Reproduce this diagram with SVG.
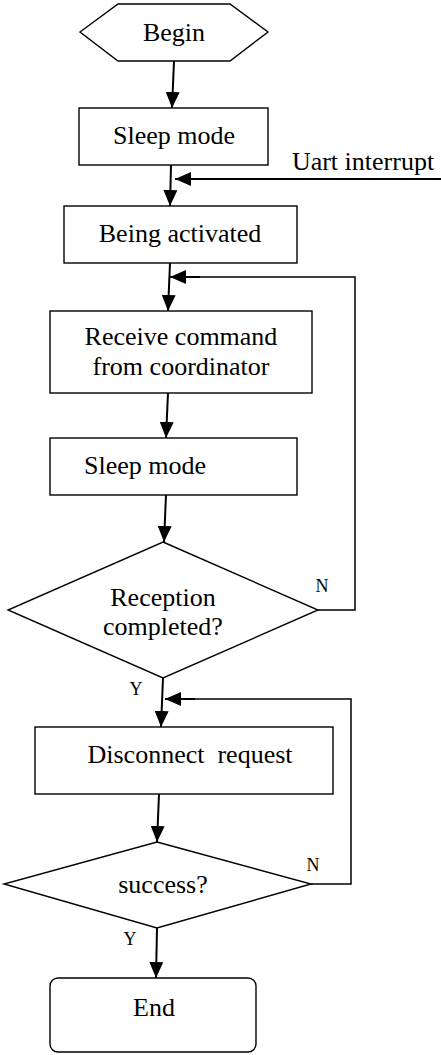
<svg xmlns="http://www.w3.org/2000/svg" width="441" height="1055" viewBox="0 0 441 1055">
  <style>
    .shape { fill: #fff; stroke: #000; stroke-width: 1.4; }
    .flow { fill: none; stroke: #000; stroke-width: 2; }
    .loop { fill: none; stroke: #000; stroke-width: 1.5; }
    .lbl { font-family: 'Liberation Serif', 'Times New Roman', 'DejaVu Serif', serif; font-size: 26px; font-weight: normal; fill: #000; text-anchor: middle; }
    .tag { font-family: 'Liberation Serif', 'Times New Roman', 'DejaVu Serif', serif; font-size: 18px; font-weight: normal; fill: #000; text-anchor: middle; }
  </style>
  <defs>
    <marker id="arrow" viewBox="0 0 16 14" refX="16" refY="7" markerWidth="16" markerHeight="14" markerUnits="userSpaceOnUse" orient="auto">
      <path d="M0,0 L16,7 L0,14 z" fill="#000"/>
    </marker>
  </defs>

  <rect width="441" height="1055" fill="#fff"/>

  <!-- connectors -->
  <g id="connectors">
    <line class="flow" x1="174" y1="61" x2="172" y2="108" marker-end="url(#arrow)"/>
    <line class="flow" x1="171" y1="165" x2="170" y2="206" marker-end="url(#arrow)"/>
    <line class="flow" x1="441" y1="179" x2="175" y2="179" marker-end="url(#arrow)"/>
    <line class="flow" x1="170" y1="263" x2="168" y2="311" marker-end="url(#arrow)"/>
    <polyline class="loop" points="318,610 355,610 355,277 200,277"/>
    <line class="flow" x1="200" y1="277" x2="170" y2="277" marker-end="url(#arrow)"/>
    <line class="flow" x1="168" y1="393" x2="166" y2="438" marker-end="url(#arrow)"/>
    <line class="flow" x1="166" y1="495" x2="164" y2="542" marker-end="url(#arrow)"/>
    <line class="flow" x1="163" y1="678" x2="161" y2="727" marker-end="url(#arrow)"/>
    <polyline class="loop" points="311,884 351,884 351,699 195,699"/>
    <line class="flow" x1="195" y1="699" x2="165" y2="699" marker-end="url(#arrow)"/>
    <line class="flow" x1="159" y1="794" x2="157" y2="842" marker-end="url(#arrow)"/>
    <line class="flow" x1="157" y1="928" x2="156" y2="978" marker-end="url(#arrow)"/>
    <text class="lbl" x="363" y="170">Uart interrupt</text>
    <text class="tag" x="322" y="592">N</text>
    <text class="tag" x="136" y="695">Y</text>
    <text class="tag" x="313" y="871">N</text>
    <text class="tag" x="130" y="945">Y</text>
  </g>

  <!-- nodes -->
  <g id="begin">
    <polygon class="shape" points="80,32 118,4 230,4 268,32 230,61 118,61"/>
    <text class="lbl" x="174" y="41">Begin</text>
  </g>
  <g id="sleep1">
    <rect class="shape" x="79" y="108" width="189" height="57"/>
    <text class="lbl" x="174" y="144">Sleep mode</text>
  </g>
  <g id="activated">
    <rect class="shape" x="64" y="206" width="233" height="57"/>
    <text class="lbl" x="180" y="242">Being activated</text>
  </g>
  <g id="receive">
    <rect class="shape" x="50" y="311" width="262" height="82"/>
    <text class="lbl" x="181" y="345">Receive command</text>
    <text class="lbl" x="181" y="375">from coordinator</text>
  </g>
  <g id="sleep2">
    <rect class="shape" x="50" y="438" width="247" height="57"/>
    <text class="lbl" x="145" y="474">Sleep mode</text>
  </g>
  <g id="reception">
    <polygon class="shape" points="163,542 318,610 163,678 8,610"/>
    <text class="lbl" x="163" y="606">Reception</text>
    <text class="lbl" x="163" y="635">completed?</text>
  </g>
  <g id="disconnect">
    <rect class="shape" x="35" y="727" width="298" height="67"/>
    <text class="lbl" x="190" y="763" xml:space="preserve">Disconnect  request</text>
  </g>
  <g id="success">
    <polygon class="shape" points="157,842 311,884 157,928 4,884"/>
    <text class="lbl" x="163" y="893">success?</text>
  </g>
  <g id="end">
    <rect class="shape" x="50" y="978" width="206" height="74" rx="8"/>
    <text class="lbl" x="154" y="1016">End</text>
  </g>
</svg>
